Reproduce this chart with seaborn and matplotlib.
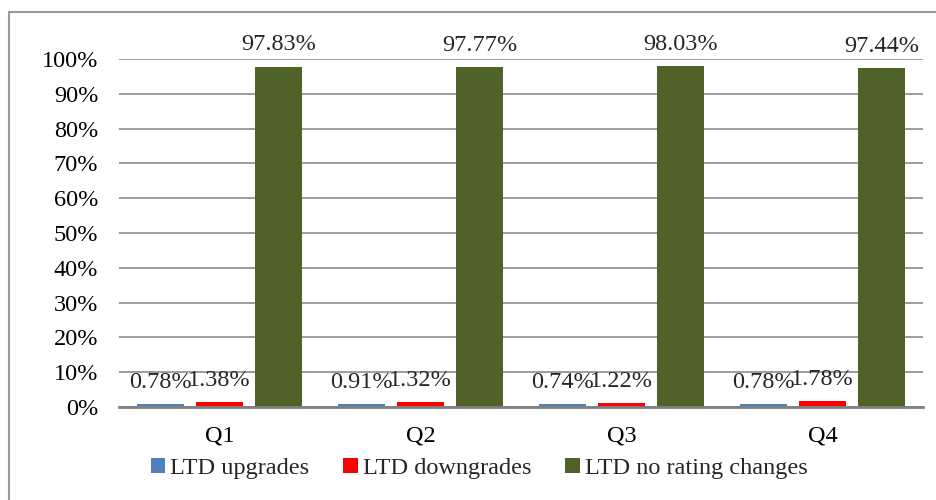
import pandas as pd
import seaborn as sns
import matplotlib.pyplot as plt
from matplotlib.patches import Rectangle
from matplotlib.ticker import FuncFormatter

# Chart data (percent)
quarters = ['Q1', 'Q2', 'Q3', 'Q4']
series_names = ['LTD upgrades', 'LTD downgrades', 'LTD no rating changes']
upgrades = [0.78, 0.91, 0.74, 0.78]
downgrades = [1.38, 1.32, 1.22, 1.78]
no_change = [97.83, 97.77, 98.03, 97.44]
colors = ['#4F81BD', '#FF0000', '#4F6228']

df = pd.DataFrame({
    'quarter': quarters * 3,
    'series': [series_names[0]] * 4 + [series_names[1]] * 4 + [series_names[2]] * 4,
    'value': upgrades + downgrades + no_change,
})

sns.set_style('white')
plt.rcParams['font.family'] = ['Liberation Serif', 'DejaVu Serif']
fs = 17.5

fig = plt.figure(figsize=(9.36, 5), dpi=100)
ax = fig.add_axes([0.1271, 0.186, 0.8590, 0.696])

sns.barplot(data=df, x='quarter', y='value', hue='series', hue_order=series_names,
            palette=colors, width=0.88, gap=0.2, saturation=1, linewidth=0,
            ax=ax, legend=True)

ax.set_ylim(0, 100)
ax.set_xlim(-0.5, 3.5)
ax.set_yticks(range(0, 101, 10))
ax.yaxis.set_major_formatter(FuncFormatter(lambda v, p: f'{int(v)}%'))
ax.grid(axis='y', color='#8c8c8c', linewidth=1.2)
ax.set_axisbelow(True)
for s in ['top', 'right', 'left']:
    ax.spines[s].set_visible(False)
ax.spines['bottom'].set_color('#808080')
ax.spines['bottom'].set_linewidth(2)
ax.tick_params(axis='both', length=0, labelsize=fs, colors='black')
ax.tick_params(axis='x', pad=13)
ax.tick_params(axis='y', pad=15)
ax.set_xlabel('')
ax.set_ylabel('')

for cont in ax.containers:
    ax.bar_label(cont, fmt='%.2f%%', padding=8, fontsize=fs, clip_on=False)

handles, lbls = ax.get_legend_handles_labels()
ax.legend(handles, lbls, loc='center', bbox_to_anchor=(0.512, 0.063),
          bbox_transform=fig.transFigure, ncol=3, frameon=False, fontsize=fs,
          handlelength=0.6, handleheight=0.6, handletextpad=0.2, columnspacing=1.4)

# outer chart border
fig.patches.append(Rectangle((9 / 936, -0.1), 1.2, 1 - 12 / 500 + 0.1,
                             transform=fig.transFigure, fill=False,
                             edgecolor='#999999', linewidth=1.5))

fig.savefig('out.png', dpi=100)
